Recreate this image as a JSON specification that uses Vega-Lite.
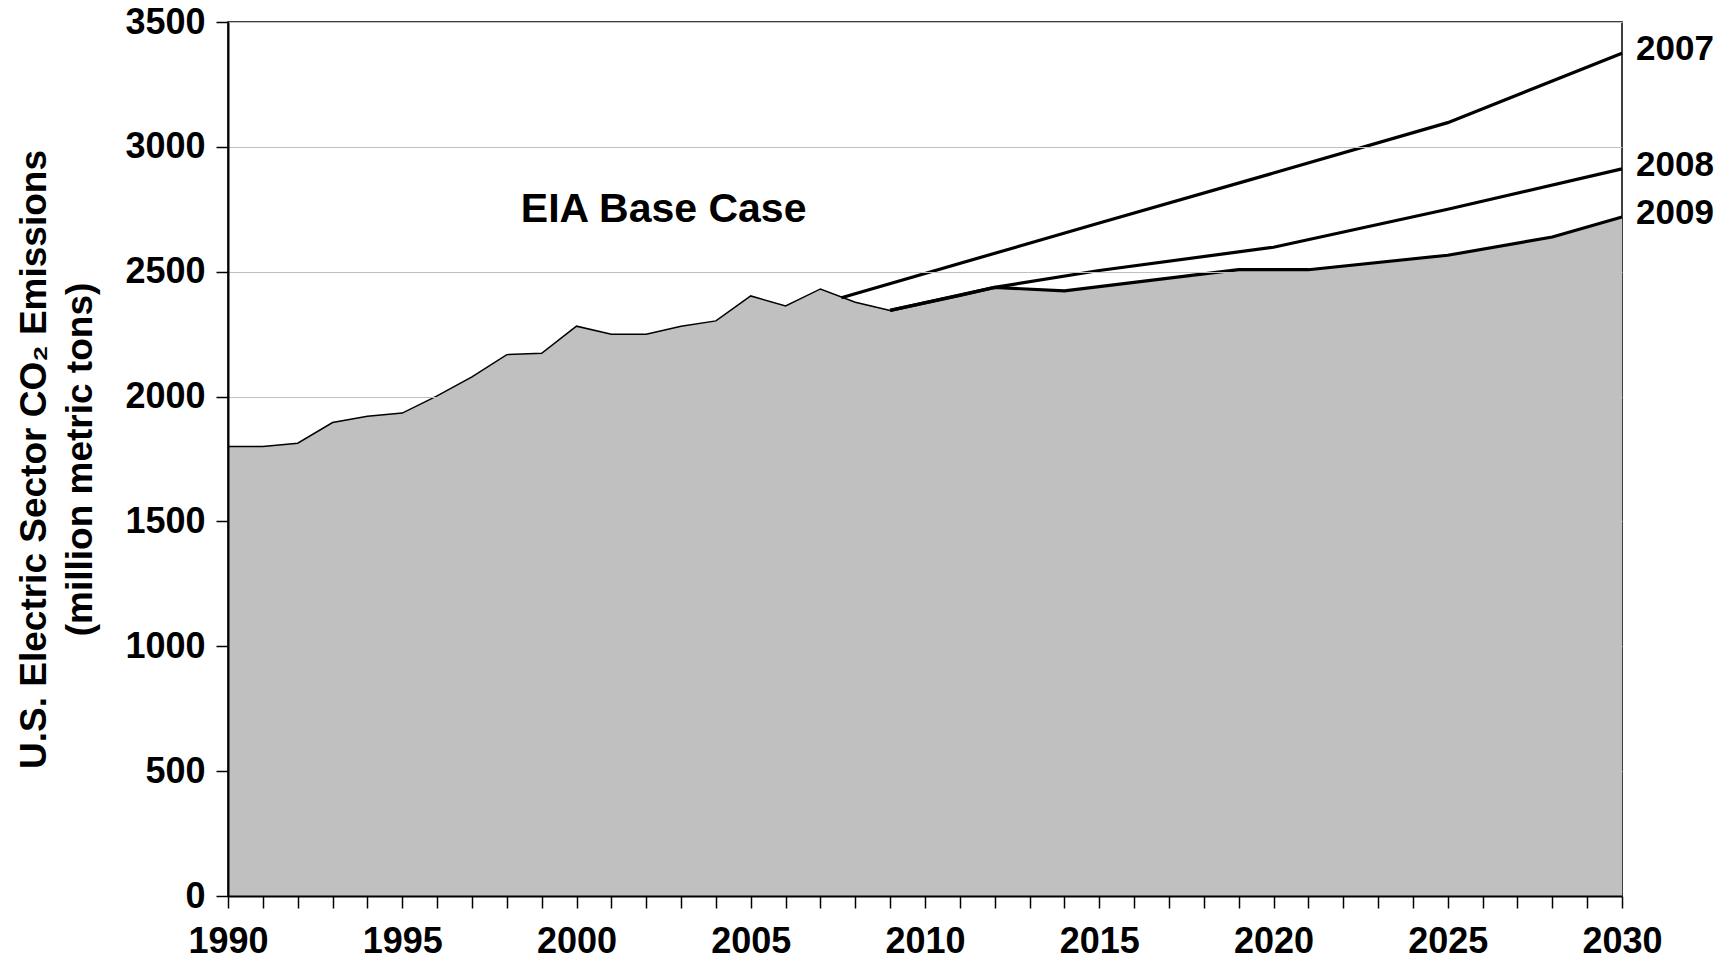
{
  "$schema": "https://vega.github.io/schema/vega-lite/v6.json",
  "autosize": {"type": "none"},
  "padding": {"left": 228, "top": 22, "right": 108, "bottom": 64},
  "width": 1394,
  "height": 874,
  "background": "white",
  "config": {
    "font": "Liberation Sans, Arial, DejaVu Sans",
    "view": {"stroke": "black", "strokeWidth": 1.5}
  },
  "datasets": {
    "emissions": [
      {"year": 1990, "value": 1800, "series": "Historical"},
      {"year": 1991, "value": 1800, "series": "Historical"},
      {"year": 1992, "value": 1813, "series": "Historical"},
      {"year": 1993, "value": 1896, "series": "Historical"},
      {"year": 1994, "value": 1921, "series": "Historical"},
      {"year": 1995, "value": 1934, "series": "Historical"},
      {"year": 1996, "value": 2003, "series": "Historical"},
      {"year": 1997, "value": 2079, "series": "Historical"},
      {"year": 1998, "value": 2168, "series": "Historical"},
      {"year": 1999, "value": 2173, "series": "Historical"},
      {"year": 2000, "value": 2282, "series": "Historical"},
      {"year": 2001, "value": 2250, "series": "Historical"},
      {"year": 2002, "value": 2250, "series": "Historical"},
      {"year": 2003, "value": 2282, "series": "Historical"},
      {"year": 2004, "value": 2303, "series": "Historical"},
      {"year": 2005, "value": 2403, "series": "Historical"},
      {"year": 2006, "value": 2363, "series": "Historical"},
      {"year": 2007, "value": 2431, "series": "Historical"},
      {"year": 2008, "value": 2378, "series": "Historical"},
      {"year": 2009, "value": 2345, "series": "Historical"},
      {"year": 2007.6, "value": 2396, "series": "2007"},
      {"year": 2015, "value": 2695, "series": "2007"},
      {"year": 2020, "value": 2895, "series": "2007"},
      {"year": 2025, "value": 3097, "series": "2007"},
      {"year": 2030, "value": 3375, "series": "2007"},
      {"year": 2009, "value": 2345, "series": "2008"},
      {"year": 2012, "value": 2437, "series": "2008"},
      {"year": 2015, "value": 2505, "series": "2008"},
      {"year": 2020, "value": 2598, "series": "2008"},
      {"year": 2025, "value": 2750, "series": "2008"},
      {"year": 2030, "value": 2912, "series": "2008"},
      {"year": 2009, "value": 2345, "series": "2009"},
      {"year": 2011, "value": 2405, "series": "2009"},
      {"year": 2012, "value": 2437, "series": "2009"},
      {"year": 2014, "value": 2423, "series": "2009"},
      {"year": 2019, "value": 2508, "series": "2009"},
      {"year": 2021, "value": 2508, "series": "2009"},
      {"year": 2025, "value": 2566, "series": "2009"},
      {"year": 2028, "value": 2639, "series": "2009"},
      {"year": 2030, "value": 2719, "series": "2009"}
    ],
    "notes": [
      {"year": 2002.5, "value": 2700, "text": "EIA Base Case"}
    ]
  },
  "encoding": {
    "x": {
      "field": "year",
      "type": "quantitative",
      "scale": {"domain": [1990, 2030], "nice": false, "zero": false},
      "axis": {
        "title": null,
        "values": [1990,1991,1992,1993,1994,1995,1996,1997,1998,1999,2000,2001,2002,2003,2004,2005,2006,2007,2008,2009,2010,2011,2012,2013,2014,2015,2016,2017,2018,2019,2020,2021,2022,2023,2024,2025,2026,2027,2028,2029,2030],
        "format": "d",
        "labelExpr": "datum.value % 5 === 0 ? datum.label : ''",
        "labelOverlap": false,
        "labelFlush": false,
        "labelFont": "Liberation Sans, Arial",
        "labelFontSize": 36,
        "labelFontWeight": "bold",
        "labelColor": "black",
        "labelPadding": 16,
        "grid": false,
        "domainColor": "black",
        "domainWidth": 2,
        "tickColor": "black",
        "tickWidth": 1.5,
        "tickSize": 12,
        "zindex": 1
      }
    },
    "y": {
      "field": "value",
      "type": "quantitative",
      "stack": null,
      "scale": {"domain": [0, 3500], "nice": false},
      "axis": {
        "title": ["U.S. Electric Sector CO₂ Emissions", "(million metric tons)"],
        "titleFont": "Liberation Sans, Arial, DejaVu Sans",
        "titleFontSize": 37,
        "titleFontWeight": "bold",
        "titleColor": "black",
        "titleLineHeight": 46,
        "titleBaseline": "alphabetic",
        "titleX": -183,
        "values": [0, 500, 1000, 1500, 2000, 2500, 3000, 3500],
        "format": "d",
        "labelFont": "Liberation Sans, Arial",
        "labelFontSize": 36,
        "labelFontWeight": "bold",
        "labelColor": "black",
        "labelPadding": 11,
        "grid": true,
        "gridColor": "#C0C0C0",
        "gridWidth": 1,
        "domainColor": "black",
        "domainWidth": 2,
        "tickColor": "black",
        "tickWidth": 1.5,
        "tickSize": 12,
        "zindex": 1
      }
    }
  },
  "layer": [
    {
      "data": {"name": "emissions"},
      "transform": [{"filter": "datum.series === 'Historical' || (datum.series === '2009' && datum.year > 2009)"}],
      "mark": {"type": "area", "color": "#C0C0C0", "opacity": 1}
    },
    {
      "data": {"name": "emissions"},
      "transform": [{"filter": "datum.series === 'Historical'"}],
      "mark": {"type": "line", "color": "black", "strokeWidth": 1.5}
    },
    {
      "data": {"name": "emissions"},
      "transform": [{"filter": "datum.series !== 'Historical'"}],
      "mark": {"type": "line", "color": "black", "strokeWidth": 3.2},
      "encoding": {"detail": {"field": "series"}}
    },
    {
      "data": {"name": "emissions"},
      "transform": [{"filter": "datum.series !== 'Historical' && datum.year === 2030"}],
      "mark": {"type": "text", "align": "left", "baseline": "middle", "dx": 14, "dy": -4, "fontSize": 35, "fontWeight": "bold", "color": "black"},
      "encoding": {"text": {"field": "series"}}
    },
    {
      "data": {"name": "notes"},
      "mark": {"type": "text", "align": "center", "baseline": "alphabetic", "fontSize": 41, "fontWeight": "bold", "color": "black"},
      "encoding": {"text": {"field": "text"}}
    }
  ]
}
